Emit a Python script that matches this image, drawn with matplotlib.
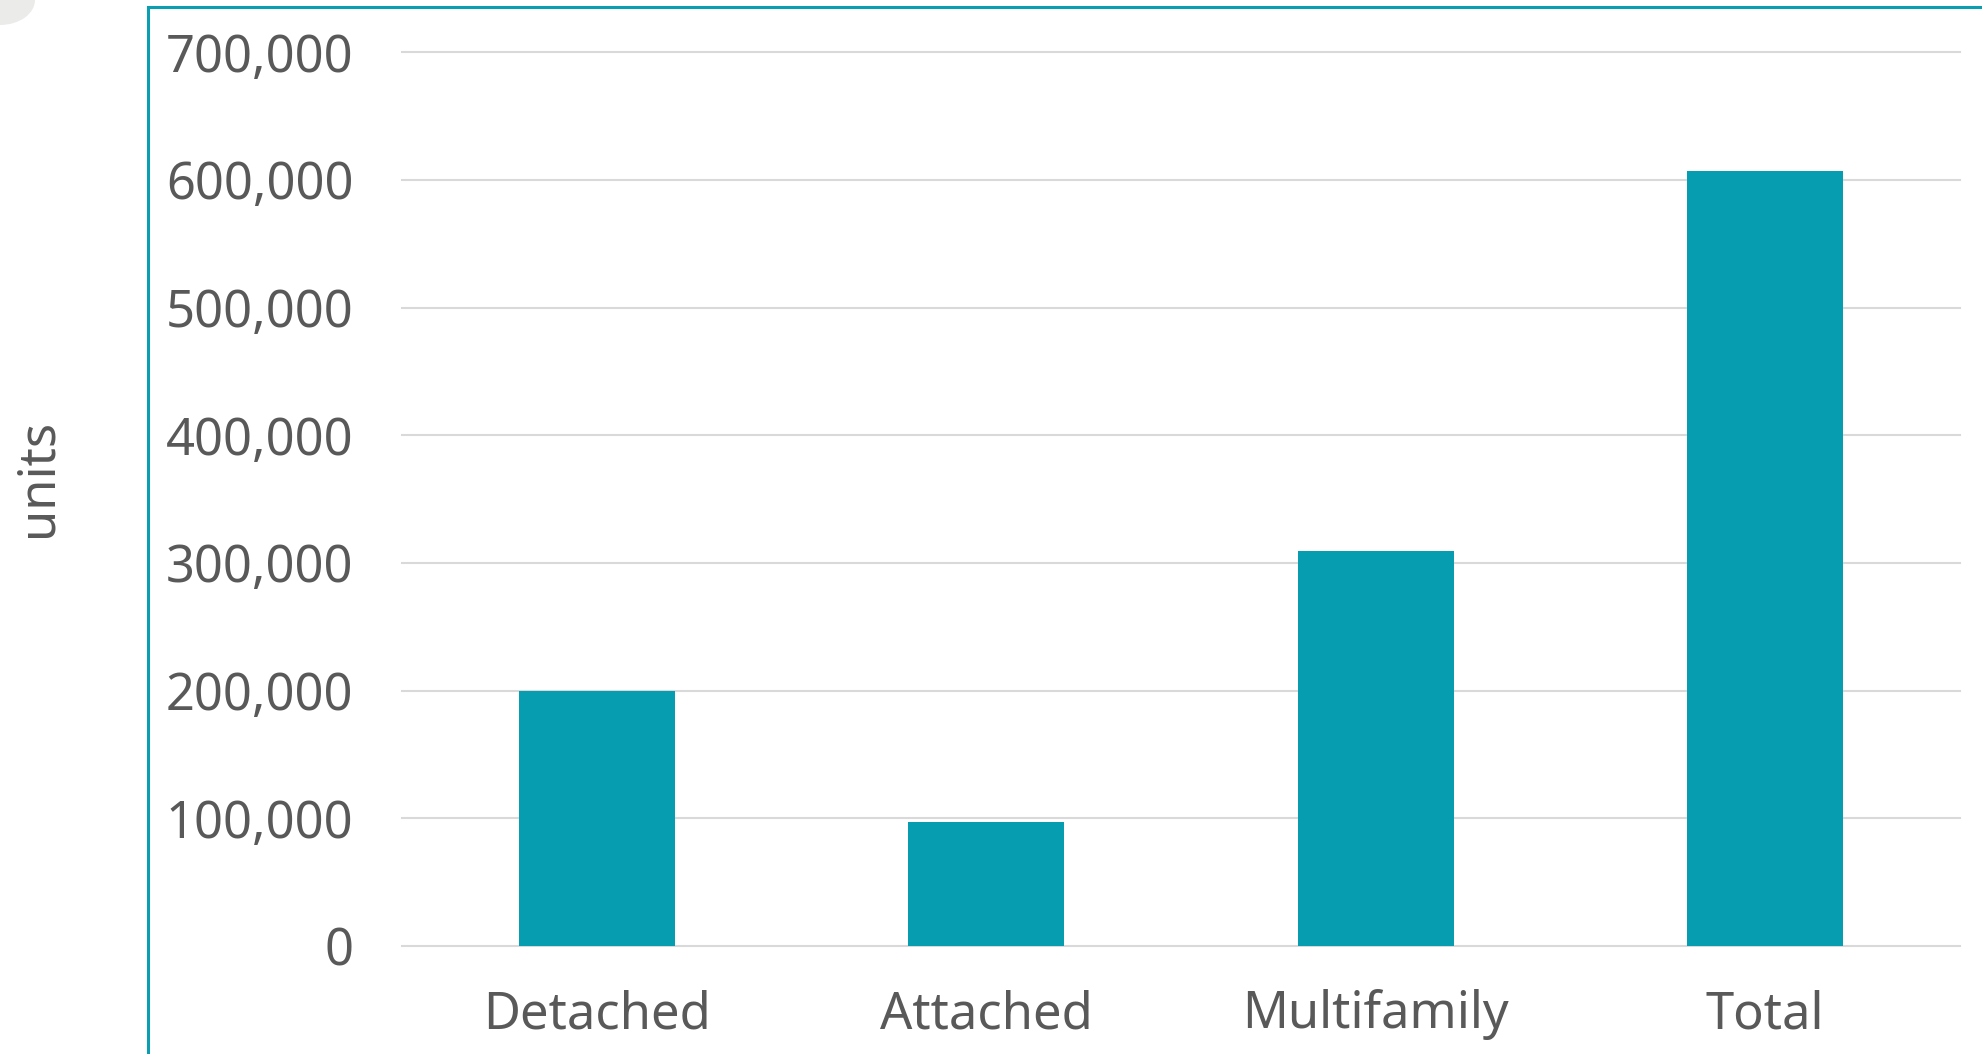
import matplotlib
matplotlib.use('Agg')
import matplotlib.pyplot as plt
import numpy as np
from matplotlib.patches import Rectangle, Ellipse
from matplotlib.ticker import FuncFormatter

# values
categories = ['Detached', 'Attached', 'Multifamily', 'Total']
units = [199500, 97300, 309000, 607000]
y_ticks = [0, 100000, 200000, 300000, 400000, 500000, 600000, 700000]

bar_color = '#079DB0'
text_color = '#595959'
grid_color = '#D9D9D9'

plt.rcParams['font.family'] = ['Noto Sans', 'DejaVu Sans']

fig = plt.figure(figsize=(19.83, 10.54), dpi=100)
ax = fig.add_axes([0.2027, 0.1025, 0.9884 - 0.2027, 0.9504 - 0.1025])

x = np.arange(len(categories))
ax.bar(x, units, width=0.4, color=bar_color, zorder=3)

ax.set_xlim(-0.5, len(categories) - 0.5)
ax.set_ylim(0, 700000)
ax.set_yticks(y_ticks)
ax.yaxis.set_major_formatter(FuncFormatter(lambda v, p: f'{int(v):,}'))
ax.set_xticks(x)
ax.set_xticklabels(categories)

ax.grid(axis='y', color=grid_color, linewidth=1.5, zorder=0)
for gl in ax.get_ygridlines():
    gl.set_clip_on(False)
for s in ax.spines.values():
    s.set_visible(False)
ax.tick_params(axis='both', length=0, labelsize=36.5, colors=text_color)
ax.tick_params(axis='y', pad=35)
ax.tick_params(axis='x', pad=31)
ax.set_ylabel('units', fontsize=36.5, color=text_color, labelpad=0)
ax.yaxis.set_label_coords(-0.2173, 0.5235)

# teal frame around the chart and the grey shape in the corner
fig.patches.append(Rectangle((148 / 1983, -0.05), 1.0, 0.9931 + 0.05, transform=fig.transFigure,
                             fill=False, edgecolor='#0A9EB0', linewidth=2.2))
fig.patches.append(Ellipse((0, 1), 70 / 1983, 50 / 1054, transform=fig.transFigure,
                           facecolor='#EBEBEA', edgecolor='none'))

fig.savefig('out.png', dpi=100)
